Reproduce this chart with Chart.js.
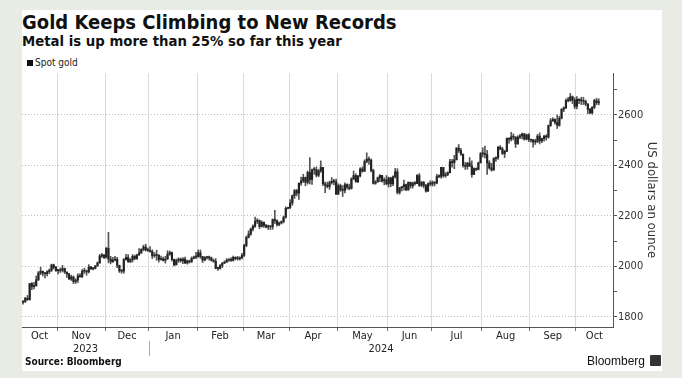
<!DOCTYPE html>
<html>
<head>
<meta charset="utf-8">
<script src="https://cdn.jsdelivr.net/npm/chart.js@4.4.1/dist/chart.umd.min.js"></script>
<style>
  html, body { margin: 0; padding: 0; background: #e9ece4; }
  body { width: 682px; height: 378px; position: relative; overflow: hidden;
         font-family: "DejaVu Sans Condensed", "DejaVu Sans", sans-serif; color: #111; }
  #card { position: absolute; left: 22px; top: 10px; width: 640px; height: 361px; background: #fff; }
  #c { position: absolute; left: 0; top: 0; }
  .txt { position: absolute; white-space: nowrap; line-height: 1; }
  #title { left: 22px; top: 12px; font-size: 20px; font-weight: bold; }
  #subtitle { left: 22px; top: 35px; font-size: 13.3px; font-weight: bold; font-family: "DejaVu Sans", sans-serif; }
  #legend { left: 27px; top: 58px; font-size: 10px; color: #222; }
  #legend i { display: inline-block; width: 6px; height: 6px; background: #111; margin-right: 2px; vertical-align: 0; }
  #source { left: 25px; top: 357px; font-size: 10px; font-weight: bold; }
  #brand { right: 37px; top: 355px; font-size: 12px; font-family: "Liberation Sans", Arial, sans-serif; }
  #logo { position: absolute; left: 650px; top: 355px; width: 11px; height: 11px; background: #333; border-radius: 1px; }
</style>
</head>
<body>
<div id="card"></div>
<div class="txt" id="title">Gold Keeps Climbing to New Records</div>
<div class="txt" id="subtitle">Metal is up more than 25% so far this year</div>
<div class="txt" id="legend"><i></i>Spot gold</div>
<canvas id="c" width="682" height="378"></canvas>
<div class="txt" id="source">Source: Bloomberg</div>
<div class="txt" id="brand">Bloomberg</div>
<div id="logo"></div>
<script>
// trading days per month on the axis (Oct 2023 starts on the 10th, Oct 2024 runs past the data)
const monthNames = ['Oct', 'Nov', 'Dec', 'Jan', 'Feb', 'Mar', 'Apr', 'May', 'Jun', 'Jul', 'Aug', 'Sep', 'Oct']
const monthDays = [16, 22, 20, 22, 21, 21, 22, 23, 20, 23, 22, 21, 17]
const yearLabels = ['2023', '2024']
const yearMonths = [3, 10]
const yTickValues = [1800, 1900, 2000, 2100, 2200, 2300, 2400, 2500, 2600, 2700]

const firstOpen = 1858
const close = [
  // Oct 2023
  1861, 1874, 1868, 1932, 1920, 1923, 1947, 1974, 1981, 1973, 1971, 1979, 1985, 2006, 1996, 1983,
  // Nov
  1983, 1985, 1992, 1978, 1970, 1950, 1958, 1940, 1946, 1963, 1959, 1981, 1981, 1978, 1998, 1990, 1992, 2002, 2014, 2041, 2044, 2036,
  // Dec
  2072, 2029, 2019, 2025, 2028, 2004, 1982, 1981, 2027, 2036, 2019, 2027, 2040, 2031, 2045, 2053, 2067, 2077, 2065, 2063,
  // Jan 2024
  2059, 2042, 2043, 2045, 2027, 2030, 2024, 2029, 2049, 2055, 2028, 2006, 2023, 2029, 2022, 2029, 2014, 2021, 2018, 2032, 2037, 2039,
  // Feb
  2054, 2039, 2025, 2035, 2035, 2034, 2024, 2020, 1992, 1992, 2004, 2013, 2017, 2025, 2025, 2024, 2036, 2031, 2030, 2034, 2044,
  // Mar
  2083, 2115, 2128, 2148, 2159, 2179, 2182, 2158, 2175, 2162, 2156, 2160, 2157, 2186, 2181, 2166, 2172, 2178, 2195, 2230, 2233,
  // Apr
  2251, 2280, 2300, 2290, 2330, 2339, 2352, 2333, 2372, 2344, 2383, 2383, 2361, 2379, 2392, 2327, 2322, 2316, 2332, 2337, 2335, 2286,
  // May
  2320, 2303, 2301, 2324, 2314, 2309, 2346, 2360, 2336, 2358, 2386, 2377, 2415, 2425, 2421, 2380, 2329, 2334, 2351, 2360, 2338, 2343, 2327,
  // Jun
  2350, 2327, 2355, 2375, 2293, 2311, 2316, 2324, 2303, 2333, 2319, 2330, 2328, 2360, 2321, 2334, 2320, 2298, 2327, 2326,
  // Jul
  2332, 2330, 2356, 2356, 2392, 2359, 2364, 2371, 2415, 2411, 2422, 2469, 2459, 2445, 2400, 2396, 2409, 2398, 2364, 2387, 2384, 2410, 2447,
  // Aug
  2446, 2443, 2410, 2390, 2382, 2427, 2431, 2472, 2465, 2447, 2456, 2507, 2504, 2513, 2512, 2485, 2512, 2517, 2525, 2504, 2521, 2503,
  // Sep
  2500, 2493, 2495, 2516, 2497, 2506, 2516, 2512, 2558, 2577, 2582, 2570, 2559, 2587, 2622, 2628, 2657, 2657, 2672, 2658, 2634,
  // Oct 2024
  2662, 2657, 2656, 2653, 2643, 2622, 2608, 2630, 2657, 2648, 2652
]
const high = [
  1865, 1877, 1885, 1933, 1936, 1937, 1962, 1980, 1997, 1981, 1976, 1983, 1990, 2009, 2009, 2000,
  1988, 1994, 2004, 1993, 1978, 1973, 1965, 1962, 1951, 1971, 1972, 1988, 1993, 1985, 2007, 2000, 1996, 2004, 2018, 2048, 2052, 2048,
  2075, 2135, 2040, 2036, 2040, 2036, 2005, 1988, 2031, 2048, 2047, 2031, 2047, 2045, 2049, 2071, 2070, 2084, 2088, 2073,
  2079, 2066, 2055, 2064, 2046, 2041, 2037, 2040, 2062, 2061, 2057, 2029, 2029, 2034, 2033, 2035, 2037, 2025, 2025, 2038, 2041, 2056,
  2065, 2065, 2040, 2039, 2039, 2041, 2037, 2029, 2031, 1996, 2007, 2015, 2022, 2031, 2030, 2035, 2041, 2038, 2040, 2038, 2052,
  2088, 2120, 2141, 2152, 2165, 2195, 2189, 2184, 2180, 2176, 2167, 2164, 2161, 2188, 2222, 2184, 2176, 2180, 2199, 2236, 2234,
  2265, 2283, 2305, 2305, 2330, 2354, 2365, 2354, 2378, 2431, 2385, 2392, 2394, 2384, 2418, 2392, 2334, 2334, 2338, 2352, 2345, 2346,
  2327, 2326, 2320, 2331, 2327, 2326, 2351, 2378, 2367, 2361, 2391, 2394, 2422, 2450, 2434, 2426, 2385, 2340, 2354, 2364, 2361, 2351, 2360,
  2354, 2353, 2359, 2388, 2387, 2313, 2317, 2342, 2326, 2335, 2334, 2334, 2336, 2364, 2368, 2336, 2336, 2325, 2331, 2339,
  2339, 2336, 2365, 2363, 2393, 2392, 2372, 2375, 2424, 2424, 2440, 2470, 2483, 2468, 2440, 2412, 2412, 2431, 2418, 2390, 2390, 2413, 2451,
  2470, 2477, 2460, 2419, 2408, 2431, 2434, 2476, 2479, 2471, 2460, 2509, 2509, 2531, 2525, 2514, 2518, 2523, 2528, 2526, 2524, 2526,
  2503, 2503, 2504, 2523, 2529, 2508, 2519, 2522, 2560, 2586, 2589, 2584, 2600, 2595, 2625, 2632, 2664, 2670, 2685, 2675, 2668,
  2673, 2664, 2670, 2670, 2659, 2645, 2626, 2633, 2662, 2666, 2664
]
const low = [
  1850, 1857, 1865, 1867, 1908, 1911, 1922, 1944, 1967, 1962, 1954, 1962, 1971, 1980, 1990, 1980,
  1970, 1976, 1978, 1972, 1956, 1948, 1944, 1932, 1932, 1936, 1957, 1956, 1972, 1965, 1974, 1988, 1986, 1990, 2000, 2012, 2035, 2031,
  2033, 2014, 2010, 2016, 2022, 1995, 1976, 1973, 1973, 2025, 2016, 2015, 2017, 2026, 2028, 2044, 2052, 2062, 2061, 2059,
  2056, 2031, 2036, 2024, 2017, 2025, 2021, 2013, 2028, 2044, 2021, 2002, 2006, 2016, 2017, 2011, 2011, 2009, 2013, 2016, 2030, 2031,
  2036, 2032, 2015, 2022, 2029, 2025, 2021, 2016, 1990, 1984, 1989, 1995, 2011, 2015, 2020, 2020, 2021, 2026, 2025, 2025, 2030,
  2039, 2078, 2113, 2123, 2141, 2154, 2170, 2150, 2156, 2154, 2152, 2146, 2146, 2147, 2170, 2159, 2161, 2168, 2172, 2191, 2228,
  2229, 2242, 2269, 2279, 2265, 2321, 2332, 2319, 2326, 2327, 2325, 2365, 2354, 2355, 2372, 2320, 2292, 2311, 2305, 2326, 2323, 2285,
  2285, 2297, 2277, 2291, 2306, 2303, 2306, 2344, 2333, 2332, 2354, 2373, 2376, 2410, 2404, 2374, 2326, 2325, 2334, 2336, 2334, 2323, 2323,
  2314, 2316, 2320, 2350, 2287, 2286, 2299, 2302, 2300, 2302, 2310, 2310, 2322, 2328, 2317, 2316, 2311, 2294, 2297, 2319,
  2318, 2319, 2327, 2351, 2349, 2353, 2353, 2359, 2370, 2393, 2387, 2422, 2451, 2440, 2393, 2384, 2385, 2395, 2353, 2364, 2379, 2382, 2410,
  2433, 2430, 2364, 2385, 2377, 2380, 2416, 2424, 2462, 2443, 2431, 2454, 2488, 2497, 2501, 2471, 2484, 2506, 2505, 2500, 2501, 2494,
  2492, 2472, 2483, 2490, 2485, 2490, 2496, 2500, 2508, 2555, 2574, 2563, 2546, 2555, 2584, 2613, 2625, 2651, 2654, 2645, 2625,
  2624, 2645, 2641, 2641, 2636, 2605, 2605, 2603, 2625, 2640, 2640
]

// category labels and month boundaries
const labels = []
const monthStarts = new Set()
monthNames.forEach((m, i) => {
  if (i > 0) monthStarts.add(labels.length)
  for (let d = 0; d < monthDays[i]; d++) labels.push(m + ' ' + (i < 3 ? 2023 : 2024) + ' #' + (d + 1))
})

const open = close.map((c, i) => i ? close[i - 1] : firstOpen)
const wicks = low.map((l, i) => [l, high[i]])
const bodies = close.map((c, i) => [open[i], c])

const FONT = '"DejaVu Sans Condensed", "DejaVu Sans", sans-serif'

// month and year labels under the axis
const xLabels = {
  id: 'xLabels',
  afterDraw(chart) {
    const { ctx } = chart
    const x = chart.scales.x
    const slot = x.getPixelForValue(1) - x.getPixelForValue(0)
    const edge = i => x.getPixelForValue(i) - slot / 2
    ctx.save()
    ctx.fillStyle = '#222'
    ctx.textAlign = 'center'
    ctx.textBaseline = 'middle'
    ctx.font = '11px ' + FONT
    let start = 0
    const starts = []
    monthNames.forEach((m, i) => {
      starts.push(start)
      ctx.fillText(m, (edge(start) + edge(start + monthDays[i])) / 2, 336)
      start += monthDays[i]
    })
    starts.push(start)
    let mi = 0
    yearLabels.forEach((yl, i) => {
      const a = edge(starts[mi])
      const b = edge(starts[mi + yearMonths[i]])
      ctx.fillText(yl, (a + b) / 2, 349)
      mi += yearMonths[i]
    })
    // separator between years
    const sep = Math.round(edge(starts[yearMonths[0]])) + 0.5
    ctx.strokeStyle = '#aaa'
    ctx.lineWidth = 1
    ctx.beginPath()
    ctx.moveTo(sep, 341)
    ctx.lineTo(sep, 356)
    ctx.stroke()
    ctx.restore()
  }
}

new Chart(document.getElementById('c'), {
  type: 'bar',
  data: {
    labels: labels,
    datasets: [
      { label: 'Spot gold range', data: wicks, backgroundColor: '#555', barThickness: 1, grouped: false, order: 2 },
      { label: 'Spot gold', data: bodies, backgroundColor: '#222', barThickness: 1.5, minBarLength: 1, grouped: false, order: 1 }
    ]
  },
  options: {
    responsive: false,
    maintainAspectRatio: false,
    animation: false,
    layout: { padding: { left: 22, top: 73, right: 0, bottom: 0 } },
    plugins: { legend: { display: false }, tooltip: { enabled: false } },
    scales: {
      x: {
        type: 'category',
        offset: true,
        afterFit: s => { s.height = 51 },
        ticks: { display: false, autoSkip: false },
        grid: {
          offset: true,
          color: c => monthStarts.has(c.index) ? '#dadada' : 'transparent',
          tickColor: c => monthStarts.has(c.index) ? '#777' : 'transparent',
          tickLength: 4
        },
        border: { color: '#555' }
      },
      y: {
        position: 'right',
        min: 1760,
        max: 2766,
        afterBuildTicks: s => { s.ticks = yTickValues.map(v => ({ value: v })) },
        afterFit: s => { s.width = 69 },
        grid: {
          color: c => c.tick && c.tick.value % 200 === 0 ? '#bdbdbd' : 'transparent',
          tickColor: '#555',
          tickLength: 4
        },
        border: { color: '#555', dash: [1, 2] },
        ticks: {
          callback: v => v % 200 === 0 ? v : '',
          color: '#333',
          padding: 1,
          font: { family: FONT, size: 11 }
        },
        title: {
          display: true,
          text: 'US dollars an ounce',
          color: '#333',
          font: { family: FONT, size: 13 },
          padding: { top: 23, bottom: 0 }
        }
      }
    }
  },
  plugins: [xLabels]
})
</script>
</body>
</html>
